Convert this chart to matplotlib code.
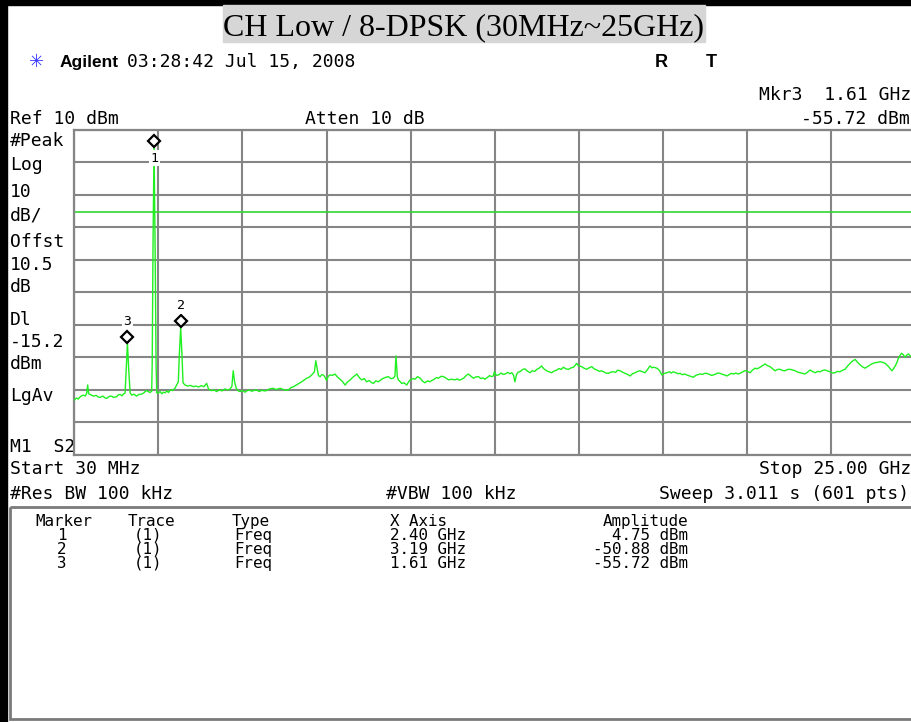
import matplotlib
matplotlib.use("Agg")
import matplotlib.pyplot as plt
from matplotlib.patches import Rectangle
from matplotlib.transforms import offset_copy
import numpy as np

START_GHZ = 0.03
STOP_GHZ = 25.0
REF_DBM = 10
DB_PER_DIV = 10
DISPLAY_LINE_DBM = -15.2

MARKER_IDS = ["1", "2", "3"]
MARKER_FREQ_GHZ = [2.40, 3.19, 1.61]
MARKER_AMP_DBM = [4.75, -50.88, -55.72]
MARKER_AMP_TEXT = ["4.75 dBm", "-50.88 dBm", "-55.72 dBm"]
MARKER_FREQ_TEXT = ["2.40 GHz", "3.19 GHz", "1.61 GHz"]

# trace, GHz / dBm
TRACE_FREQ_GHZ = [
    0.03, 0.10, 0.15, 0.22, 0.30, 0.36, 0.40, 0.43, 0.46, 0.52,
    0.60, 0.68, 0.75, 0.80, 0.88, 0.95, 1.00, 1.07, 1.14, 1.20,
    1.29, 1.34, 1.39, 1.45, 1.50, 1.54, 1.57, 1.61, 1.65, 1.69,
    1.74, 1.80, 1.88, 1.95, 2.03, 2.10, 2.16, 2.23, 2.28, 2.33,
    2.345, 2.37, 2.40, 2.43, 2.46, 2.48, 2.52, 2.58, 2.63, 2.68,
    2.73, 2.78, 2.83, 2.88, 2.95, 3.02, 3.08, 3.12, 3.15, 3.19,
    3.23, 3.26, 3.32, 3.40, 3.48, 3.56, 3.64, 3.72, 3.80, 3.88,
    3.96, 4.02, 4.10, 4.18, 4.26, 4.34, 4.42, 4.50, 4.58, 4.65,
    4.71, 4.75, 4.79, 4.84, 4.90, 4.95, 5.02, 5.10, 5.15, 5.22,
    5.30, 5.38, 5.45, 5.52, 5.60, 5.68, 5.74, 5.82, 5.94, 6.02,
    6.14, 6.22, 6.30, 6.39, 6.46, 6.54, 6.62, 6.70, 6.78, 6.86,
    6.93, 7.00, 7.08, 7.16, 7.20, 7.24, 7.28, 7.33, 7.38, 7.43,
    7.48, 7.52, 7.57, 7.62, 7.70, 7.77, 7.85, 7.92, 8.00, 8.07,
    8.14, 8.22, 8.30, 8.36, 8.42, 8.50, 8.56, 8.64, 8.71, 8.78,
    8.85, 8.91, 8.98, 9.06, 9.14, 9.21, 9.28, 9.35, 9.43, 9.50,
    9.55, 9.58, 9.62, 9.65, 9.70, 9.75, 9.82, 9.90, 9.95, 10.00,
    10.08, 10.15, 10.22, 10.30, 10.37, 10.44, 10.52, 10.58, 10.64, 10.72,
    10.78, 10.84, 10.92, 10.99, 11.06, 11.14, 11.22, 11.33, 11.40, 11.46,
    11.53, 11.60, 11.67, 11.73, 11.80, 11.88, 11.95, 12.03, 12.10, 12.16,
    12.22, 12.30, 12.36, 12.42, 12.47, 12.50, 12.55, 12.62, 12.70, 12.76,
    12.82, 12.90, 12.96, 13.02, 13.07, 13.11, 13.16, 13.21, 13.26, 13.34,
    13.41, 13.48, 13.56, 13.62, 13.70, 13.76, 13.83, 13.90, 13.97, 14.05,
    14.12, 14.20, 14.27, 14.35, 14.42, 14.48, 14.55, 14.62, 14.70, 14.78,
    14.85, 14.90, 14.94, 15.00, 15.09, 15.16, 15.24, 15.31, 15.39, 15.46,
    15.54, 15.62, 15.68, 15.74, 15.81, 15.88, 15.96, 16.03, 16.10, 16.16,
    16.23, 16.30, 16.38, 16.45, 16.53, 16.60, 16.68, 16.75, 16.82, 16.90,
    16.97, 17.04, 17.12, 17.18, 17.22, 17.30, 17.37, 17.42, 17.47, 17.55,
    17.62, 17.70, 17.75, 17.81, 17.88, 17.95, 18.01, 18.08, 18.15, 18.21,
    18.30, 18.36, 18.41, 18.48, 18.54, 18.60, 18.68, 18.74, 18.80, 18.88,
    18.94, 19.00, 19.07, 19.13, 19.20, 19.27, 19.34, 19.40, 19.47, 19.53,
    19.60, 19.67, 19.73, 19.79, 19.86, 19.93, 19.99, 20.05, 20.09, 20.16,
    20.24, 20.30, 20.39, 20.46, 20.54, 20.60, 20.68, 20.76, 20.83, 20.90,
    20.98, 21.05, 21.13, 21.20, 21.28, 21.36, 21.43, 21.50, 21.57, 21.65,
    21.72, 21.80, 21.87, 21.94, 22.02, 22.10, 22.17, 22.24, 22.32, 22.40,
    22.47, 22.54, 22.61, 22.68, 22.76, 22.84, 22.91, 22.98, 23.06, 23.13,
    23.21, 23.28, 23.36, 23.43, 23.50, 23.58, 23.65, 23.72, 23.80, 23.88,
    23.95, 24.02, 24.10, 24.16, 24.20, 24.25, 24.30, 24.35, 24.40, 24.45,
    24.49, 24.54, 24.59, 24.64, 24.69, 24.74, 24.79, 24.84, 24.90, 24.95, 25.00,
]
TRACE_DBM = [
    -73.2, -72.6, -72.9, -72.1, -71.7, -72.0, -71.1, -68.6, -71.3, -71.6,
    -72.0, -71.8, -72.3, -72.4, -72.0, -72.6, -72.7, -72.1, -72.0, -72.4,
    -72.2, -71.6, -71.5, -71.9, -71.3, -71.1, -64.2, -55.72, -64.2, -71.0,
    -71.7, -71.4, -72.0, -71.5, -71.4, -71.0, -70.3, -70.6, -70.9, -70.5,
    -62.0, -24.6, 4.75, -24.6, -62.0, -71.0, -71.1, -70.6, -71.3, -70.8,
    -71.0, -70.4, -70.9, -70.1, -70.3, -69.6, -68.4, -67.6, -59.5, -50.88,
    -59.5, -67.9, -68.6, -68.9, -68.7, -69.1, -68.9, -69.2, -68.8, -69.1,
    -68.1, -69.9, -70.3, -70.1, -70.6, -70.0, -70.4, -69.8, -70.1, -69.9,
    -69.0, -64.2, -67.6, -69.6, -70.4, -70.6, -70.3, -70.8, -70.4, -70.1,
    -70.5, -70.2, -70.1, -70.6, -70.2, -70.4, -70.3, -69.8, -69.6, -70.0,
    -69.6, -69.9, -70.2, -70.1, -69.4, -69.1, -68.6, -68.1, -67.6, -67.0,
    -66.5, -66.2, -65.5, -64.5, -61.1, -63.4, -65.7, -66.0, -65.4, -65.5,
    -66.3, -67.2, -65.9, -65.5, -65.6, -65.2, -66.2, -66.8, -67.6, -68.6,
    -67.7, -67.0, -66.2, -65.7, -65.2, -66.4, -67.0, -66.6, -67.6, -67.2,
    -67.8, -68.1, -67.3, -67.6, -66.9, -66.5, -66.2, -66.0, -66.6, -66.5,
    -65.8, -59.6, -66.0, -67.0, -67.5, -68.1, -67.9, -68.6, -67.7, -67.0,
    -66.6, -66.8, -66.0, -66.5, -67.4, -67.9, -67.3, -67.6, -67.2, -66.8,
    -66.3, -66.5, -65.9, -66.0, -66.4, -67.0, -66.8, -67.0, -66.7, -67.1,
    -66.8, -66.4, -65.6, -65.2, -65.8, -66.5, -66.1, -66.0, -66.6, -66.4,
    -66.8, -66.2, -65.7, -66.0, -65.8, -64.5, -65.6, -65.5, -64.9, -65.3,
    -65.2, -64.7, -65.1, -64.8, -65.6, -67.6, -65.3, -64.6, -64.5, -63.8,
    -63.6, -64.3, -64.8, -64.2, -64.4, -63.75, -63.4, -62.7, -63.6, -64.2,
    -64.5, -64.8, -64.3, -64.0, -63.5, -63.8, -63.1, -63.6, -63.75, -63.3,
    -63.1, -62.5, -61.9, -62.7, -62.9, -63.4, -63.75, -63.3, -62.9, -63.6,
    -63.95, -64.4, -64.2, -64.5, -64.9, -65.0, -64.6, -64.5, -64.7, -64.0,
    -64.2, -64.6, -65.0, -65.3, -65.8, -65.1, -64.8, -64.4, -64.2, -64.5,
    -64.8, -63.9, -62.7, -63.3, -63.1, -63.3, -63.75, -64.4, -65.5, -65.0,
    -64.8, -64.5, -64.9, -64.5, -64.8, -65.1, -65.0, -65.4, -65.2, -65.5,
    -65.8, -66.0, -66.2, -65.6, -65.4, -65.2, -65.3, -65.0, -65.0, -65.3,
    -65.6, -65.5, -65.2, -64.9, -65.0, -65.3, -65.5, -65.8, -65.4, -65.0,
    -65.2, -64.9, -65.2, -65.0, -64.6, -64.2, -64.2, -64.6, -64.8, -64.0,
    -63.4, -63.6, -63.1, -62.6, -62.1, -62.6, -62.9, -63.6, -64.2, -63.8,
    -63.75, -64.1, -64.2, -63.8, -63.75, -64.0, -64.2, -64.6, -64.8, -65.0,
    -65.2, -64.6, -63.95, -64.4, -64.8, -64.4, -64.5, -64.1, -63.95, -64.3,
    -64.5, -64.9, -64.8, -64.4, -64.5, -64.0, -63.75, -62.8, -61.9, -61.2,
    -60.7, -61.6, -62.4, -63.0, -63.4, -62.9, -62.4, -62.0, -61.7, -61.6,
    -61.4, -61.6, -61.9, -62.5, -62.9, -63.6, -64.2, -63.5, -62.7, -61.6,
    -60.4, -59.5, -58.8, -59.3, -60.05, -59.4, -59.0, -59.6, -59.85, -59.6, -59.8,
]
assert len(TRACE_FREQ_GHZ) == len(TRACE_DBM)

LEFT_LABELS = ["#Peak", "Log", "10", "dB/", "Offst", "10.5", "dB",
               "Dl", "-15.2", "dBm", "LgAv", "M1  S2"]
LEFT_LABEL_Y = [146, 170, 197, 220, 247, 270, 292, 325, 347, 369, 401, 452]

MONO = "DejaVu Sans Mono"
TRACE_GREEN = "#1ff01f"
GRID_GREY = "#858585"

W, H = 912, 722
fig = plt.figure(figsize=(W / 100, H / 100), dpi=100)

# whole-figure axes in pixel units for the screen furniture
bg = fig.add_axes([0, 0, 1, 1])
bg.set_xlim(0, W)
bg.set_ylim(H, 0)
bg.axis("off")

bg.add_patch(Rectangle((0, 0), W, 5, color="black"))
bg.add_patch(Rectangle((0, 0), 7, H, color="black"))
bg.add_patch(Rectangle((223, 5), 482, 37, color="#d6d6d6"))
bg.text(464, 35, "CH Low / 8-DPSK (30MHz~25GHz)", family="Liberation Serif",
        size=23, ha="center", va="baseline")

bg.text(37, 62, "\u2733", family="DejaVu Sans", size=13, color="#3a3aff",
        ha="center", va="center")
bg.text(60, 67, "Agilent", family="Liberation Sans", weight="bold", size=12.5,
        va="baseline")


def label(x, y, s, size=13, **kw):
    bg.text(x, y, s, family=MONO, size=size, va="baseline", **kw)


label(127, 67, "03:28:42 Jul 15, 2008")
bg.text(661, 67, "R", family="Liberation Sans", weight="bold", size=13,
        ha="center", va="baseline")
bg.text(711, 67, "T", family="Liberation Sans", weight="bold", size=13,
        ha="center", va="baseline")
label(911, 100, "Mkr3  1.61 GHz", ha="right")
label(910, 124, "-55.72 dBm", ha="right")
label(10, 124, "Ref 10 dBm")
label(305, 124, "Atten 10 dB")

for s, y in zip(LEFT_LABELS, LEFT_LABEL_Y):
    label(10, y, s)

label(10, 474, "Start 30 MHz")
label(911, 474, "Stop 25.00 GHz", ha="right")
label(10, 499, "#Res BW 100 kHz")
label(386, 499, "#VBW 100 kHz")
label(909, 499, "Sweep 3.011 s (601 pts)", ha="right")

# marker table
bg.add_patch(Rectangle((10, 507), 920, 212, fill=False, ec="#7a7a7a", lw=2))
label(35, 526, "Marker", size=11.4)
label(128, 526, "Trace", size=11.4)
label(232, 526, "Type", size=11.4)
label(390, 526, "X Axis", size=11.4)
label(688, 526, "Amplitude", size=11.4, ha="right")
for i, mid in enumerate(MARKER_IDS):
    y = 540 + 14 * i
    label(62, y, mid, size=11.4, ha="center")
    label(134, y, "(1)", size=11.4)
    label(234, y, "Freq", size=11.4)
    label(390, y, MARKER_FREQ_TEXT[i], size=11.4)
    label(688, y, MARKER_AMP_TEXT[i], size=11.4, ha="right")

# graticule
x0, x1, y0, y1 = 74.2, 915.5, 130.0, 454.5
ax = fig.add_axes([x0 / W, 1 - y1 / H, (x1 - x0) / W, (y1 - y0) / H])
ax.set_facecolor("white")
ax.set_xlim(START_GHZ, STOP_GHZ)
ax.set_ylim(REF_DBM - 10 * DB_PER_DIV, REF_DBM)
ax.set_xticks(np.linspace(START_GHZ, STOP_GHZ, 11))
ax.set_yticks(np.arange(REF_DBM - 10 * DB_PER_DIV, REF_DBM + 1, DB_PER_DIV))
ax.tick_params(length=0, labelbottom=False, labelleft=False)
ax.grid(True, color=GRID_GREY, lw=1.5)
for sp in ax.spines.values():
    sp.set_color(GRID_GREY)
    sp.set_linewidth(1.6)

ax.axhline(DISPLAY_LINE_DBM, color="#33d633", lw=1.2, zorder=2)
ax.plot(TRACE_FREQ_GHZ, TRACE_DBM, color=TRACE_GREEN, lw=1.0, zorder=3)

diamond_tr = offset_copy(ax.transData, fig=fig, x=0, y=6.5, units="dots")
ax.plot(MARKER_FREQ_GHZ, MARKER_AMP_DBM, ls="none", marker="D", ms=6.3,
        mfc="white", mec="black", mew=1.6, transform=diamond_tr, zorder=5)

for mid, f, a in zip(MARKER_IDS, MARKER_FREQ_GHZ, MARKER_AMP_DBM):
    if a > REF_DBM - 2 * DB_PER_DIV:
        tr = offset_copy(ax.transData, fig=fig, x=0, y=-11, units="dots")
    else:
        tr = offset_copy(ax.transData, fig=fig, x=0, y=22, units="dots")
    ax.text(f, a, mid, family=MONO, size=9.5, ha="center", va="center",
            transform=tr, zorder=6,
            bbox=dict(facecolor="white", edgecolor="none", pad=1.0))

fig.savefig("out.png", dpi=100)
